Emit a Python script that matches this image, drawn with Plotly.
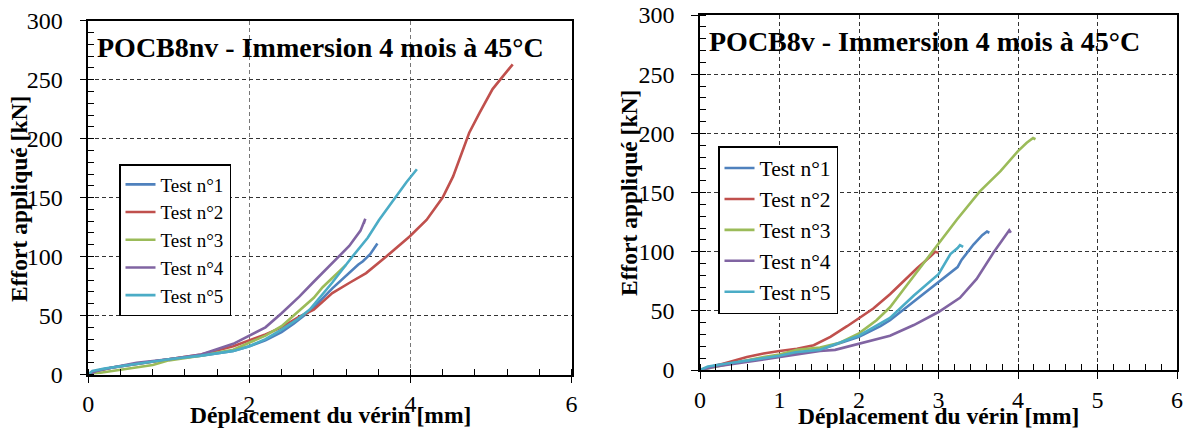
import plotly.graph_objects as go

W, H = 1189, 428

# ---------------- Data: left chart (POCB8nv) ----------------
series_names = ["Test n°1", "Test n°2", "Test n°3", "Test n°4", "Test n°5"]
colors = ["#4F81BD", "#C0504D", "#9BBB59", "#8064A2", "#4BACC6"]

nv1_x = [0, 0.05, 0.15, 0.3, 0.6, 1.0, 1.4, 1.8, 2.0, 2.2, 2.4, 2.55, 2.7, 2.83, 3.03, 3.2, 3.35, 3.41, 3.5, 3.59]
nv1_y = [0, 2, 4, 6, 9, 13, 16, 20, 24, 29, 36, 43, 51, 59, 73, 84, 93, 96, 102, 111]
nv2_x = [0, 0.1, 0.3, 0.6, 1.0, 1.4, 1.8, 2.0, 2.2, 2.4, 2.62, 2.8, 3.03, 3.25, 3.45, 3.7, 3.99, 4.2, 4.4, 4.53, 4.65, 4.73, 4.86, 5.02, 5.15, 5.27]
nv2_y = [0, 3, 6, 9, 13, 17, 24, 29, 34, 40, 49, 55, 69, 78, 86, 100, 117, 131, 150, 168, 191, 205, 222, 242, 253, 263]
nv3_x = [0, 0.1, 0.3, 0.5, 0.8, 1.0, 1.4, 1.8, 2.0, 2.2, 2.4, 2.5, 2.66, 2.8, 2.91, 3.05, 3.2]
nv3_y = [0, 1, 3, 5, 8, 12, 16, 21, 27, 33, 41, 47, 57, 65, 74, 83, 93]
nv4_x = [0, 0.1, 0.3, 0.6, 1.0, 1.4, 1.8, 2.0, 2.2, 2.4, 2.62, 2.79, 3.03, 3.24, 3.38, 3.44, 3.42]
nv4_y = [0, 3, 6, 10, 13, 17, 26, 33, 40, 52, 66, 78, 95, 109, 122, 132, 128]
nv5_x = [0, 0.05, 0.2, 0.4, 0.7, 1.0, 1.4, 1.8, 2.0, 2.2, 2.4, 2.6, 2.75, 3.03, 3.28, 3.47, 3.61, 3.82, 3.95, 4.08]
nv5_y = [0, 3, 5, 7, 10, 13, 16, 20, 24, 30, 38, 47, 55, 78, 100, 116, 131, 151, 163, 174]

# ---------------- Data: right chart (POCB8v) ----------------
v1_x = [0, 0.1, 0.2, 0.5, 1.0, 1.5, 2.0, 2.27, 2.39, 2.69, 3.0, 3.24, 3.29, 3.44, 3.55, 3.61, 3.64]
v1_y = [0, 2, 4, 7, 12, 17, 28, 37, 42, 58, 74, 87, 93, 106, 114, 117, 116]
v2_x = [0, 0.2, 0.38, 0.59, 0.8, 1.0, 1.22, 1.43, 1.64, 1.85, 2.0, 2.18, 2.39, 2.56, 2.73, 2.9, 2.96, 3.0]
v2_y = [0, 4, 7, 11, 14, 16, 18, 21, 28, 37, 44, 52, 64, 75, 86, 96, 100, 99]
v3_x = [0, 0.2, 0.5, 0.8, 1.0, 1.22, 1.51, 1.76, 2.0, 2.22, 2.39, 2.56, 2.73, 2.94, 3.23, 3.52, 3.78, 4.0, 4.11, 4.19, 4.22]
v3_y = [0, 3, 7, 11, 13, 17, 19, 23, 31, 42, 53, 68, 83, 102, 127, 151, 168, 185, 192, 196, 195]
v4_x = [0, 0.2, 0.5, 1.0, 1.51, 1.7, 2.0, 2.39, 2.69, 3.0, 3.27, 3.48, 3.69, 3.86, 3.89, 3.91]
v4_y = [0, 3, 6, 11, 16, 17, 22, 29, 38, 49, 61, 77, 99, 116, 118, 116]
v5_x = [0, 0.1, 0.3, 0.6, 1.0, 1.2, 1.5, 2.0, 2.39, 2.69, 3.0, 3.15, 3.24, 3.27, 3.31]
v5_y = [0, 3, 5, 8, 12, 15, 17, 29, 44, 63, 81, 98, 103, 105.5, 104]

left_title = "POCB8nv - Immersion 4 mois à 45°C"
right_title = "POCB8v - Immersion 4 mois à 45°C"
x_title = "Déplacement du vérin [mm]"
y_title = "Effort appliqué [kN]"

left_series = [(nv1_x, nv1_y), (nv2_x, nv2_y), (nv3_x, nv3_y), (nv4_x, nv4_y), (nv5_x, nv5_y)]
right_series = [(v1_x, v1_y), (v2_x, v2_y), (v3_x, v3_y), (v4_x, v4_y), (v5_x, v5_y)]

FONT = "Liberation Serif"

fig = go.Figure()
for (x, y), name, c in zip(left_series, series_names, colors):
    fig.add_trace(go.Scatter(x=x, y=y, mode="lines", name=name, line=dict(color=c, width=2.6),
                             xaxis="x", yaxis="y", legend="legend"))
for (x, y), name, c in zip(right_series, series_names, colors):
    fig.add_trace(go.Scatter(x=x, y=y, mode="lines", name=name, line=dict(color=c, width=2.6),
                             xaxis="x2", yaxis="y2", legend="legend2"))


def px_x(p):
    return p / W


def px_y(p):
    return 1 - p / H


def axis(domain, rng, dtick, minor_dtick, anchor, gridcolor, standoff=0):
    return dict(
        domain=domain, range=rng, dtick=dtick, tick0=0, anchor=anchor,
        automargin=False,
        showline=True, linecolor="black", linewidth=1.6, mirror=True,
        ticks="outside", ticklen=7, tickwidth=1.4, tickcolor="black",
        ticklabelstandoff=standoff,
        showgrid=True, gridcolor=gridcolor, gridwidth=1, griddash="4px,3px",
        zeroline=False,
        tickfont=dict(family=FONT, size=24, color="black"),
        minor=dict(dtick=minor_dtick, tick0=0, ticks="inside", ticklen=6, tickwidth=1.2,
                   tickcolor="black", showgrid=False),
    )


lx = [px_x(88.3), px_x(571.5)]
ly = [px_y(374.5), px_y(20.7)]
rx = [px_x(700), px_x(1177)]
ry = [px_y(370), px_y(15)]

xa = axis(lx, [0, 6], 2, 0.4, "y", "#777777")
ya = axis(ly, [0, 300], 50, 10, "x", "#333333", standoff=12)
xa2 = axis(rx, [0, 6], 1, 0.2, "y2", "#333333")
ya2 = axis(ry, [0, 300], 50, 10, "x2", "#333333", standoff=12)

legend_common = dict(
    bgcolor="white", bordercolor="black", borderwidth=1.5,
    xanchor="left", yanchor="top", itemwidth=30, tracegroupgap=0,
)

annotations = [
    dict(text=left_title, x=px_x(95), y=px_y(47.5), xref="paper", yref="paper",
         xanchor="left", yanchor="middle", showarrow=False,
         font=dict(family=FONT, size=28, color="black", weight="bold")),
    dict(text=right_title, x=px_x(706.5), y=px_y(41.5), xref="paper", yref="paper",
         xanchor="left", yanchor="middle", showarrow=False,
         font=dict(family=FONT, size=28, color="black", weight="bold")),
    dict(text=x_title, x=px_x(330), y=px_y(414.5), xref="paper", yref="paper",
         xanchor="center", yanchor="middle", showarrow=False,
         font=dict(family=FONT, size=23.5, color="black", weight="bold")),
    dict(text=x_title, x=px_x(938), y=px_y(416), xref="paper", yref="paper",
         xanchor="center", yanchor="middle", showarrow=False,
         font=dict(family=FONT, size=23.5, color="black", weight="bold")),
    dict(text=y_title, x=px_x(19), y=px_y(199), xref="paper", yref="paper",
         xanchor="center", yanchor="middle", showarrow=False, textangle=-90,
         font=dict(family=FONT, size=23.5, color="black", weight="bold")),
    dict(text=y_title, x=px_x(629), y=px_y(193), xref="paper", yref="paper",
         xanchor="center", yanchor="middle", showarrow=False, textangle=-90,
         font=dict(family=FONT, size=23.5, color="black", weight="bold")),
]

fig.update_layout(
    width=W, height=H,
    margin=dict(l=0, r=0, t=0, b=0),
    paper_bgcolor="white", plot_bgcolor="white",
    xaxis=xa, yaxis=ya, xaxis2=xa2, yaxis2=ya2,
    legend=dict(x=px_x(119), y=px_y(164), font=dict(family=FONT, size=19, color="black"),
                **legend_common),
    legend2=dict(x=px_x(718), y=px_y(146), font=dict(family=FONT, size=21.5, color="black"),
                 **legend_common),
    annotations=annotations,
    font=dict(family=FONT, color="black"),
)

fig.write_html("out.html", config={"displayModeBar": False},
               post_script="document.body.style.margin='0';document.body.style.overflow='hidden';")
